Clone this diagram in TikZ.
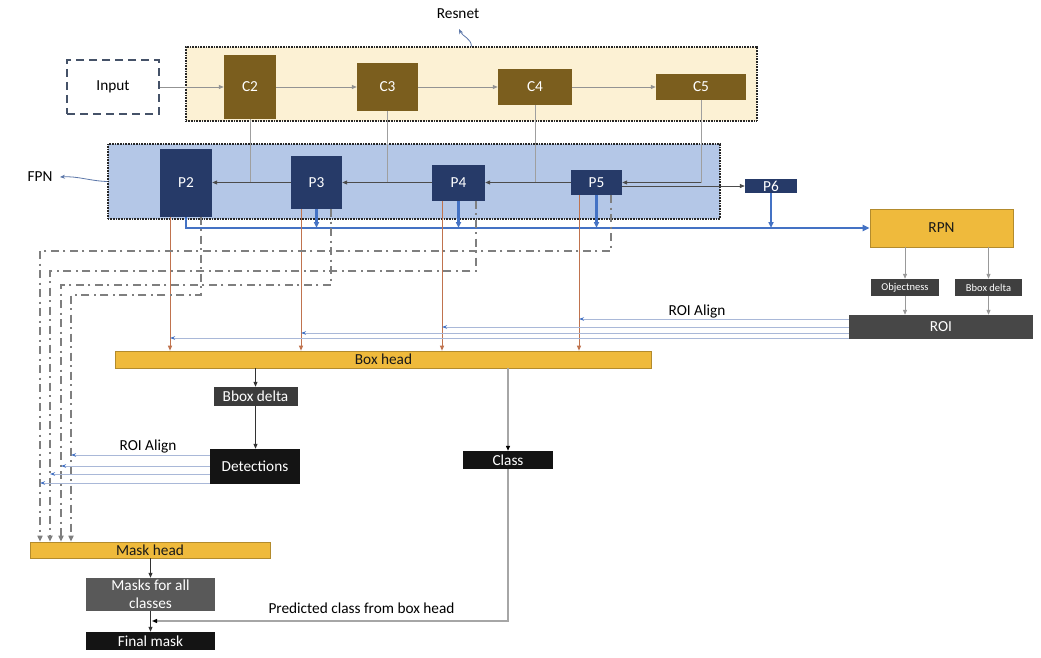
\documentclass[tikz,border=0pt]{standalone}
\usepackage{fontspec}
\setmainfont{Carlito}
\usetikzlibrary{arrows.meta}
\definecolor{cbrown}{HTML}{7B5E1E}
\definecolor{pnavy}{HTML}{263A68}
\definecolor{gold}{HTML}{EFBA3C}
\definecolor{resfill}{HTML}{FCF1D4}
\definecolor{fpnfill}{HTML}{B4C7E7}
\definecolor{bluel}{HTML}{4472C4}
\definecolor{roil}{HTML}{A9B8D8}
\definecolor{orangel}{HTML}{C0734E}
\definecolor{ddgray}{HTML}{7F7F7F}
\definecolor{dgray}{HTML}{3F3F3F}
\begin{document}
\begin{tikzpicture}[x=1pt,y=-1pt,
  font=\fontsize{15.3}{18}\selectfont,
  box/.style={rectangle, inner sep=0pt, text=white},
  cbox/.style={box, fill=cbrown},
  pbox/.style={box, fill=pnavy},
  goldbox/.style={box, fill=gold, draw=gold!75!black, line width=0.6pt, text=black!90},
  graybox/.style={box, fill=dgray},
  blackbox/.style={box, fill=black!92},
  region/.style={rectangle, inner sep=0pt, draw=black!85, line width=1.1pt, dash pattern=on 0.8pt off 0.8pt},
  tip/.style={-{Triangle[length=5pt,width=4pt]}},
  ga/.style={draw=gray!85, line width=0.8pt, tip},
  lat/.style={draw=black!70, line width=0.8pt},
  latA/.style={lat, -{Triangle[length=5pt,width=4pt]}},
  cvert/.style={draw=gray!75, line width=0.9pt},
  blu/.style={draw=bluel, line width=2.2pt},
  bluA/.style={blu, -{Triangle[length=6pt,width=5pt]}},
  orng/.style={draw=orangel, line width=1pt, -{Triangle[length=5pt,width=4pt]}},
  roiA/.style={draw=roil, line width=1pt, arrows={-{Stealth[length=5pt,width=3.5pt,color=bluel]}}},
  dd/.style={draw=ddgray, line width=2.3pt, dash pattern=on 8pt off 4.5pt on 2pt off 4.5pt},
  ddA/.style={dd, -{Triangle[length=6pt,width=5pt]}},
  gl/.style={draw=gray!70, line width=1.2pt},
  glA/.style={gl, -{Triangle[length=5pt,width=4pt,color=black]}},
  kA/.style={draw=black!80, line width=0.8pt, -{Triangle[length=5pt,width=4pt]}},
  ann/.style={draw=bluel!60!gray, line width=0.8pt, -{Stealth[length=5pt,width=4pt]}}
]
\useasboundingbox (0,0) rectangle (1041,658);
\fill[white] (0,0) rectangle (1041,658);

% regions
\node[region, fill=resfill, minimum width=571pt, minimum height=74pt] (resbox) at (471.5,84) {};
\node[region, fill=fpnfill, minimum width=612pt, minimum height=75pt] (fpnbox) at (414,181.5) {};

% labels of regions
\node (reslabel) at (458,14) {Resnet};
\coordinate (rtip) at (459,29);
\draw[ann] (resbox.north) .. controls (471,38) and (463,37) .. (rtip);
\node (fpnlabel) at (40,177) {FPN};
\coordinate (ftip) at (60,177);
\draw[ann] (fpnbox.west) .. controls (90,181) and (78,176) .. (ftip);

% input
\node[rectangle, draw=black!55!bluel!60!gray, line width=2.4pt, dash pattern=on 8pt off 5pt,
      minimum width=92pt, minimum height=54pt, inner sep=0pt] (input) at (113,87) {Input};

% C nodes
\node[cbox, minimum width=52pt, minimum height=64pt] (C2) at (250,87) {C2};
\node[cbox, minimum width=61pt, minimum height=48pt] (C3) at (387.5,87) {C3};
\node[cbox, minimum width=74pt, minimum height=36pt] (C4) at (535,87) {C4};
\node[cbox, minimum width=90pt, minimum height=26pt] (C5) at (701,87) {C5};

\draw[ga] (input) -- (C2);
\draw[ga] (C2) -- (C3);
\draw[ga] (C3) -- (C4);
\draw[ga] (C4) -- (C5);

% P nodes
\node[pbox, minimum width=52pt, minimum height=68pt] (P2) at (186,182.5) {P2};
\node[pbox, minimum width=51pt, minimum height=53pt] (P3) at (316.5,182.5) {P3};
\node[pbox, minimum width=53pt, minimum height=36pt] (P4) at (458.5,182.5) {P4};
\node[pbox, minimum width=51pt, minimum height=25pt] (P5) at (596.5,182.5) {P5};
\node[pbox, minimum width=52pt, minimum height=14pt] (P6) at (771,186) {P6};

% lateral connections
\draw[cvert] (C2.south) -- (C2.south |- P2.east);
\draw[cvert] (C3.south) -- (C3.south |- P3.east);
\draw[cvert] (C4.south) -- (C4.south |- P4.east);
\draw[latA] (P3.west) -- (P2.east);
\draw[latA] (P4.west) -- (P3.east);
\draw[latA] (P5.west) -- (P4.east);
\draw[cvert] (C5.south) -- (C5.south |- P5.east);
\draw[latA] (C5.south |- P5.east) -- (P5.east);
\draw[latA] (P5.east |- P6.west) -- (P6.west);

% RPN and friends
\node[goldbox, minimum width=143pt, minimum height=38pt] (RPN) at (941.5,228) {RPN};
\node[graybox, minimum width=68pt, minimum height=17pt, font=\fontsize{10.5}{12}\selectfont] (obj) at (905,287.5) {Objectness};
\node[graybox, minimum width=67pt, minimum height=17pt, font=\fontsize{10.5}{12}\selectfont] (bbs) at (988.5,287.5) {Bbox delta};
\node[box, fill=black!72, minimum width=184pt, minimum height=24pt] (roi) at (941,327) {ROI};
\draw[kA, draw=gray!80] (RPN.south -| obj.north) -- (obj.north);
\draw[kA, draw=gray!80] (RPN.south -| bbs.north) -- (bbs.north);
\draw[kA, draw=gray!80] (obj.south) -- (obj.south |- roi.north);
\draw[kA, draw=gray!80] (bbs.south) -- (bbs.south |- roi.north);

% blue RPN feed
\draw[blu, -{Triangle[length=7pt,width=6pt]}] (P2.south) -- (P2.south |- RPN.west) -- (RPN.west);
\draw[bluA] (P3.south) -- (P3.south |- RPN.west);
\draw[bluA] (P4.south) -- (P4.south |- RPN.west);
\draw[bluA] (P5.south) -- (P5.south |- RPN.west);
\draw[bluA] (P6.south) -- (P6.south |- RPN.west);

% box head
\node[goldbox, minimum width=536pt, minimum height=17pt] (boxhead) at (383.5,359.5) {Box head};

% orange lines
\coordinate (o2) at ([xshift=-16pt]P2.south);
\coordinate (o3) at ([xshift=-15.5pt]P3.south);
\coordinate (o4) at ([xshift=-16.5pt]P4.south);
\coordinate (o5) at ([xshift=-17.5pt]P5.south);
\draw[orng] (o2) -- (o2 |- boxhead.north);
\draw[orng] (o3) -- (o3 |- boxhead.north);
\draw[orng] (o4) -- (o4 |- boxhead.north);
\draw[orng] (o5) -- (o5 |- boxhead.north);

% ROI align lines to box head
\draw[roiA] (roi.west |- 0,319) -- (o5 |- 0,319);
\draw[roiA] (roi.west |- 0,327) -- (o4 |- 0,327);
\draw[roiA] (roi.west |- 0,333) -- (o3 |- 0,333);
\draw[roiA] (roi.west |- 0,338) -- (o2 |- 0,338);
\node (roialign1) at (697,312) {ROI Align};

% mask head
\node[goldbox, minimum width=240pt, minimum height=16pt] (maskhead) at (150,550) {Mask head};

% dash-dot feeds to mask head
\coordinate (v2) at (71,295);
\coordinate (v3) at (61,285);
\coordinate (v4) at (50,271);
\coordinate (v5) at (40,251);
\draw[ddA] ([xshift=15pt]P2.south) |- (v2) -- (v2 |- maskhead.north);
\draw[ddA] ([xshift=14.5pt]P3.south) |- (v3) -- (v3 |- maskhead.north);
\draw[ddA] ([xshift=17.5pt]P4.south) |- (v4) -- (v4 |- maskhead.north);
\draw[ddA] ([xshift=14.5pt]P5.south) |- (v5) -- (v5 |- maskhead.north);

% bbox delta, detections, class
\node[graybox, fill=black!77, minimum width=84pt, minimum height=19pt] (bbd) at (255.5,396.5) {Bbox delta};
\node[blackbox, minimum width=90pt, minimum height=35pt] (det) at (255,466.5) {Detections};
\node[blackbox, minimum width=90pt, minimum height=18pt] (class) at (508,460) {Class};
\draw[kA] (boxhead.south -| bbd.north) -- (bbd.north);
\draw[kA] (bbd.south) -- (bbd.south |- det.north);
\draw[glA] (boxhead.south -| class.north) -- (class.north);

% ROI align from detections
\draw[roiA] (det.west |- 0,455) -- (v2 |- 0,455);
\draw[roiA] (det.west |- 0,466) -- (v3 |- 0,466);
\draw[roiA] (det.west |- 0,474) -- (v4 |- 0,474);
\draw[roiA] (det.west |- 0,483) -- (v5 |- 0,483);
\node (roialign2) at (148,446) {ROI Align};

% masks
\node[box, fill=black!65, minimum width=129pt, minimum height=33pt, align=center] (masks) at (150.5,594.5) {Masks for all\\classes};
\node[blackbox, minimum width=129pt, minimum height=18pt] (final) at (150.5,641) {Final mask};
\draw[kA] (maskhead.south -| masks.north) -- (masks.north);
\draw[kA] (masks.south) -- (final.north);

% predicted class
\draw[gl, -{Triangle[length=5pt,width=4pt,color=black]}] (class.south) -- (class.south |- 0,621) -- ([xshift=1.5pt]masks.south |- 0,621);
\node[anchor=west] (predlabel) at (265,608) {Predicted class from box head};

\end{tikzpicture}
\end{document}
